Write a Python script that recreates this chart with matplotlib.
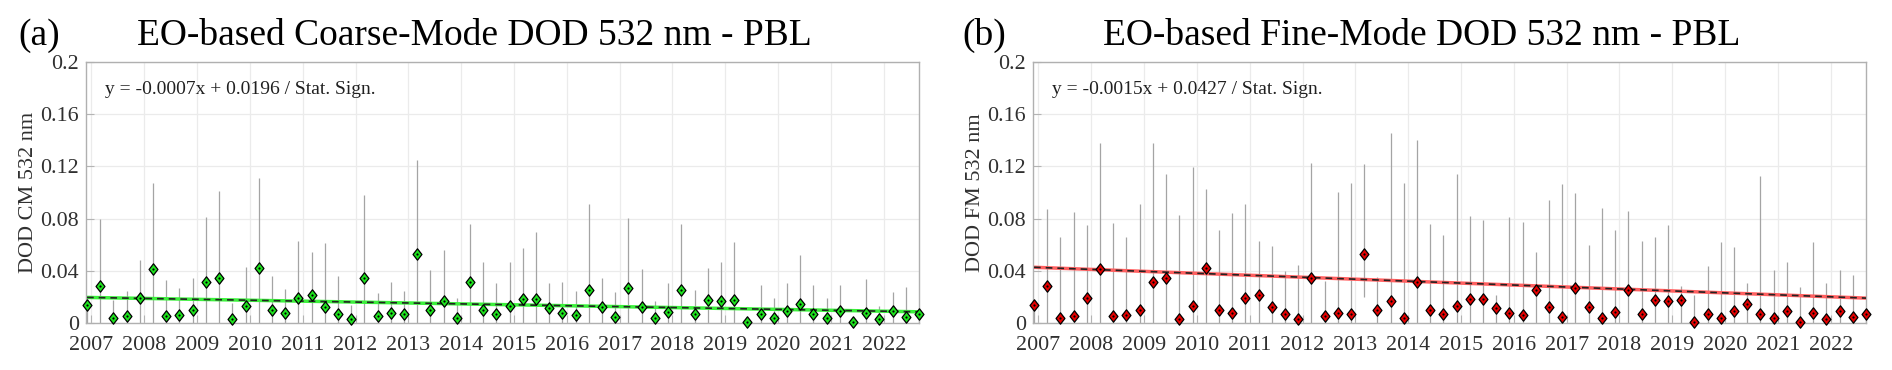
import numpy as np
import pandas as pd
import matplotlib
matplotlib.use("Agg")
import matplotlib.pyplot as plt
from matplotlib.path import Path
from matplotlib.ticker import FixedLocator, FuncFormatter

plt.rcParams['font.family'] = ['Liberation Serif', 'DejaVu Serif']

# ---------------- data ----------------
season_dates = pd.date_range("2006-12-01", periods=64, freq="QS-DEC")
year_ticks = list(range(2007, 2023))

cm_values = [0.0138, 0.0286, 0.0041, 0.0054, 0.0192, 0.0411, 0.0054, 0.0064, 0.0100, 0.0312,
             0.0342, 0.0031, 0.0133, 0.0419, 0.0097, 0.0074, 0.0192, 0.0212, 0.0123, 0.0072,
             0.0028, 0.0347, 0.0054, 0.0079, 0.0069, 0.0529, 0.0102, 0.0171, 0.0038, 0.0317,
             0.0100, 0.0072, 0.0130, 0.0181, 0.0186, 0.0112, 0.0077, 0.0061, 0.0250, 0.0120,
             0.0049, 0.0266, 0.0123, 0.0041, 0.0082, 0.0253, 0.0066, 0.0176, 0.0171, 0.0179,
             0.0008, 0.0072, 0.0041, 0.0095, 0.0143, 0.0069, 0.0038, 0.0089, 0.0005, 0.0077,
             0.0033, 0.0089, 0.0046, 0.0072]
cm_upper = [0.0138, 0.0794, 0.0180, 0.0245, 0.0483, 0.1075, 0.0330, 0.0268, 0.0342, 0.0815,
            0.1014, 0.0150, 0.0427, 0.1114, 0.0360, 0.0263, 0.0631, 0.0542, 0.0610, 0.0360,
            0.0138, 0.0980, 0.0227, 0.0314, 0.0243, 0.1249, 0.0406, 0.0559, 0.0194, 0.0756,
            0.0470, 0.0309, 0.0470, 0.0572, 0.0700, 0.0309, 0.0314, 0.0243, 0.0912, 0.0345,
            0.0235, 0.0802, 0.0411, 0.0171, 0.0309, 0.0756, 0.0255, 0.0421, 0.0465, 0.0618,
            0.0008, 0.0289, 0.0194, 0.0307, 0.0521, 0.0294, 0.0194, 0.0294, 0.0005, 0.0335,
            0.0130, 0.0235, 0.0278, 0.0072]
cm_lower = [0.0] * 64

fm_values = [0.0138, 0.0286, 0.0041, 0.0054, 0.0192, 0.0411, 0.0054, 0.0064, 0.0100, 0.0312,
             0.0342, 0.0031, 0.0133, 0.0419, 0.0097, 0.0074, 0.0192, 0.0212, 0.0123, 0.0072,
             0.0028, 0.0347, 0.0054, 0.0079, 0.0069, 0.0529, 0.0102, 0.0171, 0.0038, 0.0317,
             0.0100, 0.0072, 0.0130, 0.0181, 0.0186, 0.0112, 0.0077, 0.0061, 0.0250, 0.0120,
             0.0049, 0.0266, 0.0123, 0.0041, 0.0082, 0.0253, 0.0066, 0.0176, 0.0171, 0.0179,
             0.0008, 0.0072, 0.0041, 0.0095, 0.0143, 0.0069, 0.0038, 0.0089, 0.0005, 0.0077,
             0.0033, 0.0089, 0.0046, 0.0072]
fm_upper = [0.0138, 0.0874, 0.0662, 0.0853, 0.0754, 0.1377, 0.0769, 0.0656, 0.0912, 0.1382,
            0.1139, 0.0830, 0.1193, 0.1029, 0.0713, 0.0843, 0.0912, 0.0631, 0.0590, 0.0401,
            0.0442, 0.1229, 0.0319, 0.1001, 0.1073, 0.1216, 0.0355, 0.1453, 0.1070, 0.1402,
            0.0761, 0.0674, 0.1139, 0.0817, 0.0787, 0.0215, 0.0815, 0.0774, 0.0547, 0.0943,
            0.1065, 0.0994, 0.0595, 0.0881, 0.0710, 0.0861, 0.0631, 0.0656, 0.0754, 0.0284,
            0.0215, 0.0437, 0.0618, 0.0585, 0.0309, 0.1129, 0.0406, 0.0465, 0.0278, 0.0621,
            0.0309, 0.0406, 0.0370, 0.0072]
fm_lower = [0.0] * 25 + [0.0197] + [0.0] * 38

cm_trend = (-0.0007, 0.0196)   # slope per year, intercept
fm_trend = (-0.0015, 0.0427)

panels = [
    dict(label="(a)", title="EO-based Coarse-Mode DOD 532 nm - PBL", ylabel="DOD CM 532 nm",
         values=cm_values, upper=cm_upper, lower=cm_lower, trend=cm_trend,
         eq="y = -0.0007x + 0.0196 / Stat. Sign.", mcolor="#1ee41e", lcolor="#3cf03c",
         left=86, right=919, lab_x=18, title_x=137),
    dict(label="(b)", title="EO-based Fine-Mode DOD 532 nm - PBL", ylabel="DOD FM 532 nm",
         values=fm_values, upper=fm_upper, lower=fm_lower, trend=fm_trend,
         eq="y = -0.0015x + 0.0427 / Stat. Sign.", mcolor="#e60000", lcolor="#ff6060",
         left=1033, right=1866, lab_x=962, title_x=1103),
]

# ---------------- figure ----------------
W, H = 1892, 370
fig = plt.figure(figsize=(W / 100, H / 100), dpi=100)

t = season_dates.year + (season_dates.month - 1) / 12.0
t = np.asarray(t, dtype=float)

diamond = Path([(0, 1), (0.78, 0), (0, -1), (-0.78, 0), (0, 1)],
               [Path.MOVETO, Path.LINETO, Path.LINETO, Path.LINETO, Path.CLOSEPOLY])

top_px, bot_px = 62, 323
for p in panels:
    ax = fig.add_axes([p["left"] / W, (H - bot_px) / H, (p["right"] - p["left"]) / W,
                       (bot_px - top_px) / H])
    ax.set_xlim(t[0] - 0.02, t[-1])
    ax.set_ylim(0, 0.2)

    ax.vlines(t, p["lower"], p["upper"], color="#a4a4a4", lw=0.9, zorder=2)

    slope, icpt = p["trend"]
    tt = np.array([t[0], t[-1]])
    ax.plot(tt, icpt + slope * (tt - t[0]), color=p["lcolor"], lw=2.5, zorder=3,
            solid_capstyle="butt")
    ax.plot(tt, icpt + slope * (tt - t[0]), color="#222222", lw=1.2, zorder=4,
            ls=(0, (4, 3)))

    ax.plot(t, p["values"], ls="none", marker=diamond, ms=8.2, mfc=p["mcolor"],
            mec="black", mew=0.9, zorder=5, clip_on=False)
    ax.plot(t, p["values"], ls="none", marker="o", ms=1.6, mfc="black", mec="black",
            mew=0, zorder=6, clip_on=False)

    ax.xaxis.set_major_locator(FixedLocator(year_ticks))
    ax.set_xticklabels([str(y) for y in year_ticks])
    ax.yaxis.set_major_locator(FixedLocator([0, 0.04, 0.08, 0.12, 0.16, 0.2]))
    ax.yaxis.set_major_formatter(FuncFormatter(lambda v, pos: "0" if v == 0 else f"{v:g}"))
    ax.grid(True, color="#ebebeb", lw=0.9, zorder=0)
    ax.set_axisbelow(True)
    ax.tick_params(axis="both", direction="in", length=6, width=0.8, color="#b4b4b4",
                   labelsize=15.8, labelcolor="#303030")
    ax.tick_params(axis="x", pad=9)
    ax.tick_params(axis="y", pad=5)
    for s in ax.spines.values():
        s.set_color("#b0b0b0")
        s.set_linewidth(1.0)
    ax.set_ylabel(p["ylabel"], fontsize=16, color="#303030", labelpad=2)
    ax.text(0.023, 0.893, p["eq"], transform=ax.transAxes, fontsize=14, color="#202020",
            ha="left", va="center")

    fig.text(p["lab_x"] / W, (H - 45) / H, p["label"], fontsize=27, ha="left",
             va="baseline", color="black")
    fig.text(p["title_x"] / W, (H - 45) / H, p["title"], fontsize=27, ha="left",
             va="baseline", color="black")

fig.savefig("out.png", dpi=100)
